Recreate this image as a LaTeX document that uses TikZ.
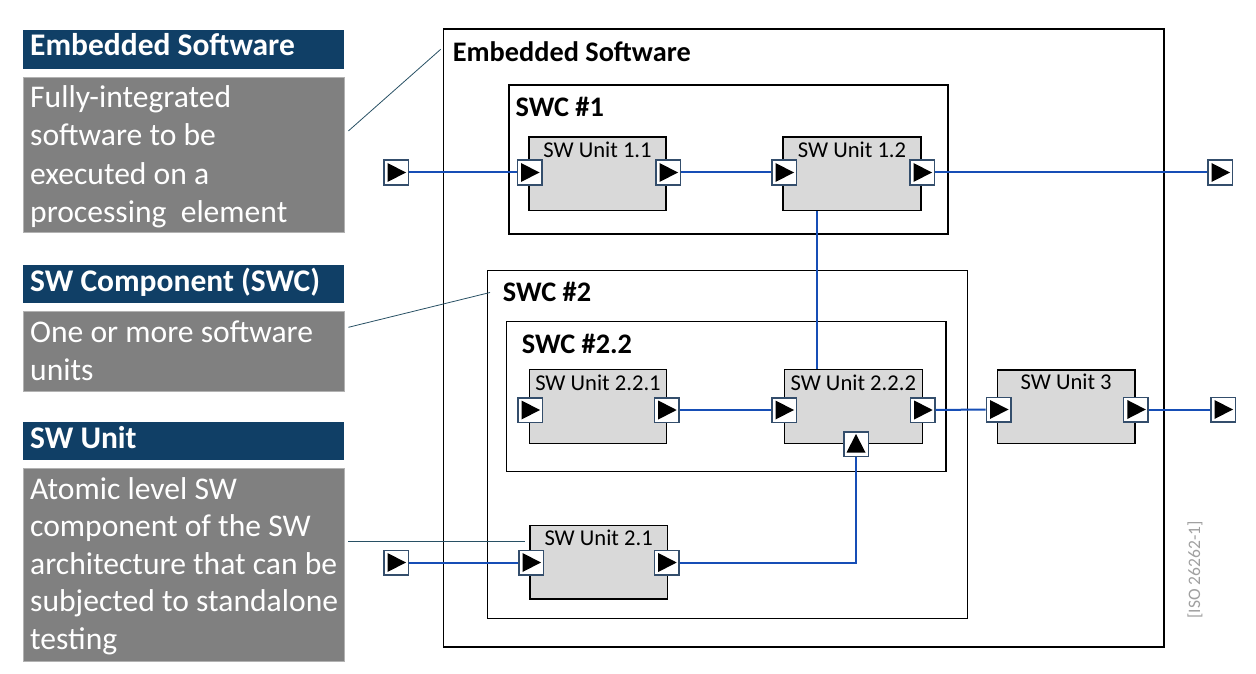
\documentclass[tikz,border=0pt]{standalone}
\usepackage{fontspec}
\setmainfont{Carlito}
\definecolor{hdrblue}{RGB}{16,63,102}
\definecolor{panelgray}{RGB}{128,128,128}
\definecolor{unitfill}{RGB}{217,217,217}
\definecolor{linkblue}{RGB}{22,78,182}
\definecolor{portedge}{RGB}{52,78,108}
\definecolor{leader}{RGB}{40,80,100}
\definecolor{isogray}{RGB}{160,160,160}
\newcommand\hdrfont{\fontsize{31.5}{36}\bfseries\selectfont}
\newcommand\bodyfont{\fontsize{31.6}{38}\selectfont}
\newcommand\titlefont{\fontsize{28.3}{32}\bfseries\selectfont}
\newcommand\unitfont{\fontsize{22.6}{26}\selectfont}
\tikzset{
  hdrbox/.style={fill=hdrblue, draw=none, inner sep=0pt},
  graybox/.style={fill=panelgray, draw=gray!60, line width=0.8pt, inner sep=0pt},
  hdrtext/.style={anchor=base west, inner sep=0pt, text=white, font=\hdrfont},
  bodytext/.style={anchor=base west, inner sep=0pt, text=white, font=\bodyfont},
  container/.style={draw=black, line width=1.5pt, fill=none, inner sep=0pt},
  unitbox/.style={draw=black, line width=1.5pt, fill=unitfill, inner sep=0pt},
  ctitle/.style={anchor=base west, inner sep=0pt, font=\titlefont},
  ulabel/.style={anchor=base, inner sep=0pt, font=\unitfont},
  port/.style={draw=portedge, line width=1.5pt, fill=white, minimum width=24.5pt, minimum height=24.5pt, inner sep=0pt},
  link/.style={draw=linkblue, line width=2pt},
  leaderline/.style={draw=leader, line width=0.8pt},
}
% right-pointing port
\newcommand\portR[2]{%
  \node[port] (#1) at (#2) {};
  \fill ([xshift=-8.5pt,yshift=9.5pt]#1.center) -- ([xshift=10pt]#1.center) -- ([xshift=-8.5pt,yshift=-9.5pt]#1.center) -- cycle;}
% up-pointing port
\newcommand\portU[2]{%
  \node[port] (#1) at (#2) {};
  \fill ([xshift=-9.5pt,yshift=-8.5pt]#1.center) -- ([yshift=10pt]#1.center) -- ([xshift=9.5pt,yshift=-8.5pt]#1.center) -- cycle;}
\begin{document}
\begin{tikzpicture}[x=1pt,y=-1pt]
\useasboundingbox (0,0) rectangle (1256,674);

% ---------------- left legend ----------------
\node[hdrbox, minimum width=320.7pt, minimum height=38.7pt] (h1) at (183.65,49.35) {};
\node[hdrtext] (h1t) at (30,56) {Embedded Software};
\node[graybox, minimum width=320.7pt, minimum height=155.3pt] (g1) at (183.65,154.65) {};
\node[bodytext] (g1a) at (30,107.3) {Fully-integrated};
\node[bodytext] (g1b) at (30,145.7) {software to be};
\node[bodytext] (g1c) at (30,184.1) {executed on a};
\node[bodytext] (g1d) at (30,222.6) {processing~ element};

\node[hdrbox, minimum width=320.7pt, minimum height=38.3pt] (h2) at (183.65,284.15) {};
\node[hdrtext] (h2t) at (30,291.7) {SW Component (SWC)};
\node[graybox, minimum width=320.7pt, minimum height=79.6pt] (g2) at (183.65,351.5) {};
\node[bodytext] (g2a) at (30,342.7) {One or more software};
\node[bodytext] (g2b) at (30,380) {units};

\node[hdrbox, minimum width=320.7pt, minimum height=38.3pt] (h3) at (183.65,440.85) {};
\node[hdrtext] (h3t) at (30,448.3) {SW Unit};
\node[graybox, minimum width=320.7pt, minimum height=192.7pt] (g3) at (183.65,564.65) {};
\node[bodytext] (g3a) at (30,499.3) {Atomic level SW};
\node[bodytext] (g3b) at (30,536.7) {component of the SW};
\node[bodytext] (g3c) at (30,574) {architecture that can be};
\node[bodytext] (g3d) at (30,611.7) {subjected to standalone};
\node[bodytext] (g3e) at (30,649) {testing};

% ---------------- containers ----------------
\node[container, minimum width=720.5pt, minimum height=618pt] (es) at (803.75,338) {};
\node[ctitle] (est) at (452.7,61.7) {Embedded Software};
\node[container, minimum width=439pt, minimum height=149pt] (swc1) at (728.5,159.5) {};
\node[ctitle] (swc1t) at (515.4,116.7) {SWC \#1};
\node[container, minimum width=480pt, minimum height=348pt] (swc2) at (727.3,444.7) {};
\node[ctitle] (swc2t) at (502.7,301.7) {SWC \#2};
\node[container, minimum width=439.3pt, minimum height=150pt] (swc22) at (726.35,396.7) {};
\node[ctitle] (swc22t) at (521.7,353.3) {SWC \#2.2};

% ---------------- units ----------------
\node[unitbox, minimum width=137pt, minimum height=73.5pt] (u11) at (597.5,173.75) {};
\node[ulabel] (u11t) at ([yshift=-21pt]u11.north) {SW Unit 1.1};
\node[unitbox, minimum width=138pt, minimum height=73.5pt] (u12) at (852,173.75) {};
\node[ulabel] (u12t) at ([yshift=-21pt]u12.north) {SW Unit 1.2};
\node[unitbox, minimum width=137.4pt, minimum height=74pt] (u221) at (598,406.3) {};
\node[ulabel] (u221t) at ([yshift=-21.5pt]u221.north) {SW Unit 2.2.1};
\node[unitbox, minimum width=138pt, minimum height=74pt] (u222) at (853.3,406.3) {};
\node[ulabel] (u222t) at ([yshift=-21.5pt]u222.north) {SW Unit 2.2.2};
\node[unitbox, minimum width=137.7pt, minimum height=73.3pt] (u3) at (1066.15,406.65) {};
\node[ulabel] (u3t) at ([yshift=-20.5pt]u3.north) {SW Unit 3};
\node[unitbox, minimum width=137.3pt, minimum height=73.3pt] (u21) at (598.65,562.35) {};
\node[ulabel] (u21t) at ([yshift=-21pt]u21.north) {SW Unit 2.1};

% ---------------- ports ----------------
\portR{pin1}{396,172.5}
\portR{u11i}{529.5,172.5}
\portR{u11o}{668,172.5}
\portR{u12i}{784,172.5}
\portR{u12o}{922,172.5}
\portR{pout1}{1220,172.5}
\portR{u221i}{530,410}
\portR{u221o}{666.7,410}
\portR{u222i}{784,410}
\portR{u222o}{922.7,410}
\portU{u222u}{856,444}
\portR{u3i}{998.5,409.5}
\portR{u3o}{1135.8,409.5}
\portR{pout2}{1223,409.5}
\portR{pin2}{396,562.5}
\portR{u21i}{531,562.5}
\portR{u21o}{666.7,562.5}

% ---------------- links ----------------
\draw[link] (pin1.east) -- (u11i.west);
\draw[link] (u11o.east) -- (u12i.west);
\draw[link] (u12o.east) -- (pout1.west);
\draw[link] ([xshift=34.5pt]u12.south west) coordinate (vtop) -- (vtop |- u222.north);
\draw[link] (u221o.east) -- (u222i.west);
\draw[link] (u222o.east) -- (u3i.west);
\draw[link] (u3o.east) -- (pout2.west);
\draw[link] (pin2.east) -- (u21i.west);
\draw[link] (u21o.east) -| (u222u.south);

% ---------------- leader lines ----------------
\coordinate (l1) at (440.7,49.3);
\coordinate (l2) at (490,292.5);
\coordinate (l3) at (525,541);
\draw[leaderline] ([xshift=4pt,yshift=23.7pt]g1.east) -- (l1);
\draw[leaderline] ([xshift=4pt,yshift=24.2pt]g2.east) -- (l2);
\draw[leaderline] ([xshift=4pt,yshift=23.65pt]g3.east) -- (l3);

% ---------------- source ----------------
\node[rotate=90, text=isogray, font=\fontsize{17.5}{20}\selectfont, inner sep=0pt] (iso) at (1195,570) {[ISO 26262-1]};
\end{tikzpicture}
\end{document}
